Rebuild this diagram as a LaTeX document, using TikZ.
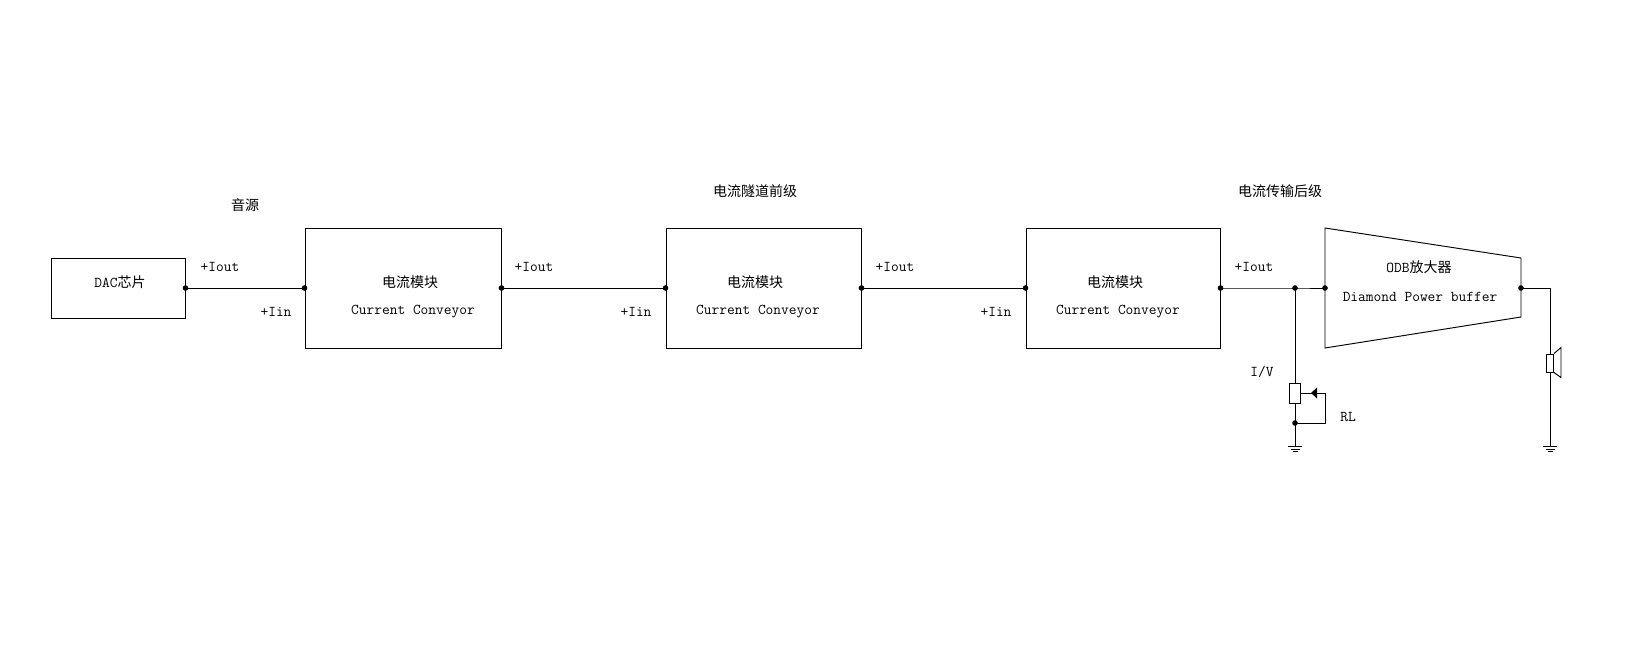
\documentclass[tikz,border=0pt]{standalone}
\usepackage{fontspec}
\newfontfamily\cjk{Noto Sans CJK SC}
\newcommand\ttlbl{\fontsize{15}{18}\selectfont\ttfamily}
\newcommand\cnlbl{\fontsize{14}{16}\selectfont\cjk}
\begin{document}
\begin{tikzpicture}[x=1pt,y=-1pt,line width=0.95pt,
  blk/.style={draw, rectangle, inner sep=0pt, minimum width=195pt, minimum height=120pt},
  lbl/.style={font=\ttlbl, inner sep=0pt},
  cn/.style={font=\cnlbl, inner sep=0pt},
  gnd/.pic={\draw (-7,0) -- (7,0); \draw (-4.5,3) -- (4.5,3); \draw (-2.5,5.5) -- (2.5,5.5);},
  jdot/.style={fill=black}]
\useasboundingbox (0,0) rectangle (1626,661);
\fill[white] (0,0) rectangle (1626,661);

% blocks
\node[draw, rectangle, inner sep=0pt, minimum width=134pt, minimum height=60pt] (dac) at (118,288) {};
\node[blk, minimum width=196pt] (cc1) at (403,288) {};
\node[blk] (cc2) at (763.5,288) {};
\node[blk, minimum width=194pt] (cc3) at (1123,288) {};

% trapezoid amplifier
\coordinate (ttl) at (1325,228);
\coordinate (ttr) at (1521,258);
\coordinate (tbr) at (1521,317);
\coordinate (tbl) at (1325,348);
\coordinate (tin) at (1325,288);
\coordinate (tout) at (1521,288);
\draw (ttl) -- (ttr) -- (tbr) -- (tbl) -- cycle;

% main signal chain
\coordinate (j) at (1295,288);
\draw (dac.east) -- (cc1.west);
\draw (cc1.east) -- (cc2.west);
\draw (cc2.east) -- (cc3.west);
\draw (cc3.east) -- (j) -- (tin);

% I/V resistor
\node[draw, rectangle, inner sep=0pt, minimum width=11pt, minimum height=20pt] (rl) at (1295,393) {};
\coordinate (w1) at (1325,393);
\coordinate (w2) at (1325,423);
\coordinate (rb) at (1295,423);
\coordinate (g1) at (1295,446);
\draw (j) -- (rl.north);
\draw (rl.south) -- (g1);
\draw (rl.east) -- (w1) -- (w2) -- (rb);
\fill (1311,393) -- (1317,387.5) -- (1317,398.5) -- cycle;
\pic at (g1) {gnd};

% speaker
\coordinate (s1) at (1550,288);
\node[draw, rectangle, inner sep=0pt, minimum width=7pt, minimum height=18pt] (spk) at (1550,363) {};
\coordinate (g2) at (1550,446);
\draw (tout) -- (s1) -- (spk.north);
\draw (spk.south) -- (g2);
\draw (spk.north east) -- ++(7,-6) -- ++(0,30) -- (spk.south east);
\pic at (g2) {gnd};

% junction dots
\foreach \p in {dac.east, cc1.west, cc1.east, cc2.west, cc2.east, cc3.west, cc3.east, j, tin, tout, rb}
  \fill[jdot] (\p) circle (2.8);

% labels
\node[cn] (t1) at (245,205) {音源};
\node[cn] (t2) at (755,191) {电流隧道前级};
\node[cn] (t3) at (1280,191) {电流传输后级};
\node[lbl] (ldac) at (120,282) {DAC{\cnlbl 芯片}};
\node[lbl] (o1) at (220,267) {+Iout};
\node[lbl] (i1) at (276,312) {+Iin};
\node[lbl] (o2) at (534,267) {+Iout};
\node[lbl] (i2) at (636,312) {+Iin};
\node[lbl] (o3) at (895,267) {+Iout};
\node[lbl] (i3) at (996,312) {+Iin};
\node[lbl] (o4) at (1254,267) {+Iout};
\node[cn] (m1) at (410,282) {电流模块};
\node[cn] (m2) at (755,282) {电流模块};
\node[cn] (m3) at (1115,282) {电流模块};
\node[lbl] (c1) at (413,312) {Current Conveyor};
\node[lbl] (c2) at (758,312) {Current Conveyor};
\node[lbl] (c3) at (1118,312) {Current Conveyor};
\node[lbl] (odb) at (1419,267) {ODB{\cnlbl 放大器}};
\node[lbl] (dpb) at (1420,297) {Diamond Power buffer};
\node[lbl] (iv) at (1262,372) {I/V};
\node[lbl] (rlt) at (1348,417) {RL};
\end{tikzpicture}
\end{document}
